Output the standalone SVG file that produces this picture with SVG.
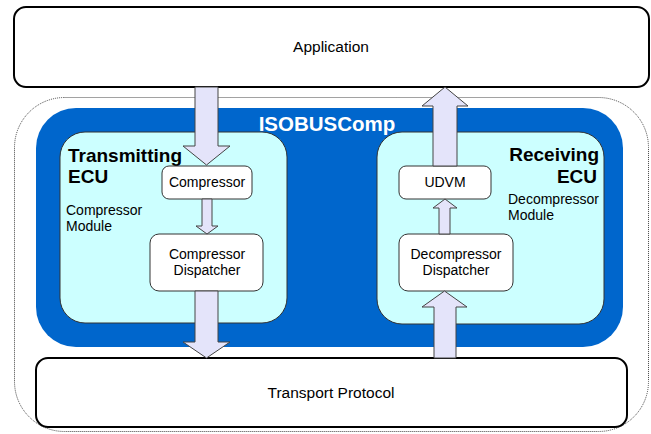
<svg xmlns="http://www.w3.org/2000/svg" width="651" height="434" viewBox="0 0 651 434">
  <style>
    .box { fill: #ffffff; stroke: #000000; stroke-width: 2; }
    .inner { fill: #ffffff; stroke: #333333; stroke-width: 1; }
    .ecu { fill: #ccffff; stroke: #333333; stroke-width: 1; }
    .flow { fill: #e4e4fa; stroke: #444444; stroke-width: 1; stroke-linejoin: miter; }
    text { font-family: "Liberation Sans", Arial, sans-serif; fill: #000000; }
    .lbl { font-size: 14px; }
    .big { font-size: 15.5px; }
    .title { font-size: 19px; font-weight: bold; }
  </style>

  <!-- outer dotted boundary -->
  <g id="boundary">
    <rect x="14.5" y="97.5" width="634" height="334" rx="50" fill="none" stroke="#444444" stroke-width="1" stroke-dasharray="1 1"/>
  </g>

  <g id="application">
    <rect class="box" x="14" y="7" width="635" height="80" rx="12"/>
    <text class="big" x="331" y="52" text-anchor="middle">Application</text>
  </g>

  <g id="isobuscomp">
    <rect x="36" y="108" width="587" height="239" rx="40" fill="#0066cc"/>
    <text x="327" y="131" text-anchor="middle" font-size="20.5" font-weight="bold" style="fill:#ffffff">ISOBUSComp</text>
  </g>

  <g id="transmitting-ecu">
    <rect class="ecu" x="60" y="132" width="227" height="191" rx="25"/>
    <text class="title" x="68" y="162">Transmitting</text>
    <text class="title" x="68" y="183">ECU</text>
    <text class="lbl" x="66" y="215">Compressor</text>
    <text class="lbl" x="66" y="231">Module</text>
  </g>

  <g id="receiving-ecu">
    <rect class="ecu" x="377" y="132" width="227" height="192" rx="25"/>
    <text class="title" x="599" y="161" text-anchor="end">Receiving</text>
    <text class="title" x="597" y="183" text-anchor="end">ECU</text>
    <text class="lbl" x="508" y="204">Decompressor</text>
    <text class="lbl" x="508" y="220">Module</text>
  </g>

  <g id="transport-protocol">
    <rect class="box" x="36" y="358" width="591" height="69" rx="12"/>
    <text class="big" x="331" y="398" text-anchor="middle">Transport Protocol</text>
  </g>

  <g id="compressor">
    <rect class="inner" x="162" y="166" width="90" height="33" rx="7"/>
    <text class="lbl" x="207" y="187" text-anchor="middle">Compressor</text>
  </g>

  <g id="compressor-dispatcher">
    <rect class="inner" x="150" y="234" width="113" height="57" rx="9"/>
    <text class="lbl" x="207" y="259" text-anchor="middle">Compressor</text>
    <text class="lbl" x="207" y="275" text-anchor="middle">Dispatcher</text>
  </g>

  <g id="udvm">
    <rect class="inner" x="399" y="166" width="92" height="33" rx="7"/>
    <text class="lbl" x="445" y="187" text-anchor="middle">UDVM</text>
  </g>

  <g id="decompressor-dispatcher">
    <rect class="inner" x="399" y="234" width="114" height="57" rx="9"/>
    <text class="lbl" x="456" y="259" text-anchor="middle">Decompressor</text>
    <text class="lbl" x="456" y="275" text-anchor="middle">Dispatcher</text>
  </g>

  <!-- block arrows between layers -->
  <g id="connectors">
    <polygon class="flow" points="195,87 218,87 218,146 230,146 206.5,165 183,146 195,146"/>
    <polygon class="flow" points="202,199 212,199 212,226 218,226 207,234 196,226 202,226"/>
    <polygon class="flow" points="195,291 218,291 218,342 230,342 206.5,358 183,342 195,342"/>
    <polygon class="flow" points="434,358 456,358 456,307 467,307 444.5,291 422,307 434,307"/>
    <polygon class="flow" points="439,234 450,234 450,208 457,208 445,199 433,208 439,208"/>
    <polygon class="flow" points="433,166 457,166 457,106 468,106 445,87 422,106 433,106"/>
  </g>
</svg>
